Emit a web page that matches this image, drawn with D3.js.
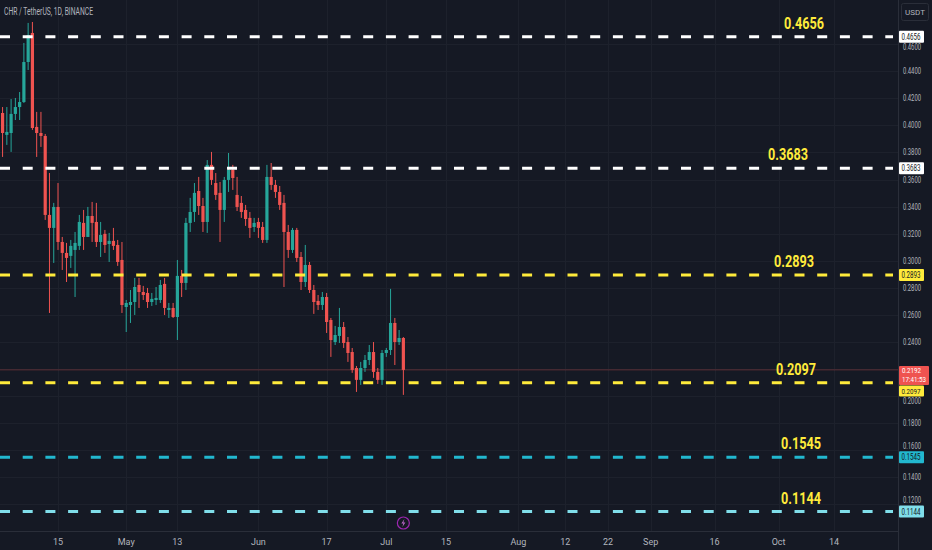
<!DOCTYPE html>
<html><head><meta charset="utf-8">
<script src="https://cdn.jsdelivr.net/npm/d3@7"></script>
<style>html,body{margin:0;padding:0;background:#151924;overflow:hidden}svg{display:block}</style>
</head><body><svg id="c" width="932" height="550"></svg>
<script>
// ---- data ----
const startDate = "2024-04-02";
const opens  = [.4092,.3930,.3944,.4085,.4136,.4173,.4469,.4684,.3989,.3944,.3922,.3338,.3242,.3397,.3138,.3057,.3035,.3079,.3109,.3279,.3175,.3330,.3286,.3138,.3198,.3123,.3146,.3116,.3005,.2657,.2672,.2694,.2820,.2768,.2761,.2694,.2709,.2709,.2828,.2635,.2650,.2583,.2887,.2835,.3279,.3360,.3515,.3404,.3286,.3708,.3574,.3501,.3375,.3597,.3671,.3486,.3427,.3375,.3316,.3249,.3286,.3249,.3153,.3619,.3560,.3508,.3427,.3212,.3079,.3227,.3027,.2842,.2968,.2783,.2702,.2672,.2731,.2561,.2398,.2443,.2509,.2398,.2324,.2206,.2118,.2206,.2265,.2324,.2177,.2118,.2317,.2339,.2539,.2398,.2428];
const highs  = [.4136,.4136,.4195,.4203,.4247,.4610,.4758,.4765,.4100,.4100,.3937,.3648,.3427,.3574,.3175,.3131,.3153,.3212,.3338,.3375,.3397,.3434,.3427,.3286,.3227,.3205,.3242,.3153,.3138,.2709,.2783,.2872,.2872,.2813,.2798,.2761,.2805,.2857,.2872,.2687,.2687,.3005,.2931,.3316,.3464,.3574,.3619,.3464,.3744,.3804,.3648,.3582,.3619,.3796,.3708,.3619,.3478,.3412,.3360,.3316,.3316,.3286,.3708,.3722,.3597,.3552,.3486,.3264,.3242,.3242,.3064,.3116,.2990,.2820,.2746,.2768,.2761,.2576,.2517,.2650,.2546,.2435,.2354,.2221,.2251,.2302,.2376,.2398,.2206,.2339,.2354,.2791,.2576,.2487,.2435];
const lows   = [.3767,.3856,.3804,.4040,.4040,.4166,.4410,.3967,.3767,.3841,.3301,.2613,.2983,.3079,.2931,.2842,.2946,.2731,.3079,.3079,.3190,.3138,.3101,.3027,.3057,.2990,.3079,.2961,.2613,.2472,.2539,.2598,.2650,.2709,.2650,.2665,.2672,.2687,.2598,.2576,.2576,.2413,.2731,.2783,.3212,.3286,.3338,.3212,.3205,.3560,.3449,.3138,.3286,.3508,.3523,.3367,.3316,.3257,.3168,.3212,.3168,.3131,.3131,.3523,.3464,.3375,.2805,.3020,.3057,.2990,.2783,.2805,.2761,.2606,.2635,.2635,.2465,.2288,.2376,.2391,.2354,.2251,.2170,.2029,.2081,.2177,.2228,.2133,.2088,.2081,.2288,.2302,.2228,.2376,.2007];
const closes = [.3944,.3952,.4085,.4136,.4173,.4469,.4669,.3981,.3944,.3922,.3338,.3242,.3397,.3138,.3057,.3020,.3109,.3131,.3286,.3175,.3330,.3279,.3138,.3190,.3116,.3146,.3109,.2990,.2672,.2687,.2694,.2805,.2768,.2746,.2694,.2717,.2724,.2820,.2650,.2650,.2583,.2887,.2835,.3279,.3360,.3501,.3404,.3286,.3708,.3597,.3486,.3375,.3597,.3671,.3611,.3397,.3360,.3308,.3242,.3279,.3242,.3153,.3619,.3560,.3508,.3412,.3212,.3079,.3227,.3020,.2842,.2968,.2783,.2694,.2672,.2731,.2546,.2413,.2450,.2509,.2391,.2317,.2192,.2118,.2206,.2265,.2324,.2177,.2118,.2317,.2339,.2539,.2398,.2428,.2192];

const levels      = [0.4656, 0.3683, 0.2893, 0.2097, 0.1545, 0.1144];
const levelLabels = ["0.4656","0.3683","0.2893","0.2097","0.1545","0.1144"];
const priceTicks  = [0.12,0.14,0.16,0.18,0.20,0.22,0.24,0.26,0.28,0.30,0.32,0.34,0.36,0.38,0.40,0.42,0.44,0.46];
const timeTickDates  = ["2024-04-15","2024-05-01","2024-05-13","2024-06-01","2024-06-17","2024-07-01","2024-07-15","2024-08-01","2024-08-12","2024-08-22","2024-09-01","2024-09-16","2024-10-01","2024-10-14"];
const timeTickLabels = ["15","May","13","Jun","17","Jul","15","Aug","12","22","Sep","16","Oct","14"];
const lastPrice = 0.2192, lastTimer = "17:41:53";
const eventDate = "2024-07-05";
const title = "CHR / TetherUS, 1D, BINANCE";

// ---- styles ----
const W=932,H=550, plotR=898, plotB=531;
const UP="#26a69a", DOWN="#ef5350", BG="#151924", GRID="#1d212c", AXIS="#2a2e39", TXT="#b2b5be";
const levelColors = ["#ffffff","#ffffff","#ffeb3b","#ffeb3b","#22b8cf","#80deea"];
const levelTextX  = [784, 768, 774, 776, 781, 781];
const FONT = "Roboto, sans-serif";

const parse = d3.utcParse("%Y-%m-%d");
const svg = d3.select("#c");
svg.append("rect").attr("width",W).attr("height",H).attr("fill",BG);

const x = d3.scaleUtc().domain([parse("2024-04-15"), parse("2024-10-14")]).range([58, 834]);
const y = d3.scaleLinear().domain([0.12, 0.46]).range([504, 44.3]);

const start = parse(startDate);
const candles = opens.map((o,i)=>({d:d3.utcDay.offset(start,i),o,h:highs[i],l:lows[i],c:closes[i]}));

svg.append("defs").append("clipPath").attr("id","plot").append("rect").attr("x",0).attr("y",0).attr("width",plotR).attr("height",plotB);
const plot = svg.append("g").attr("clip-path","url(#plot)");

// grid
plot.selectAll("line.hg").data(priceTicks).join("line").attr("class","hg")
  .attr("x1",0).attr("x2",plotR).attr("y1",d=>Math.round(y(d))+.5).attr("y2",d=>Math.round(y(d))+.5)
  .attr("stroke",GRID).attr("stroke-width",1);
plot.selectAll("line.vg").data(timeTickDates).join("line").attr("class","vg")
  .attr("y1",0).attr("y2",plotB).attr("x1",d=>Math.round(x(parse(d)))+.5).attr("x2",d=>Math.round(x(parse(d)))+.5)
  .attr("stroke",GRID).attr("stroke-width",1);

// last price line
plot.append("line").attr("x1",0).attr("x2",plotR).attr("y1",y(lastPrice)).attr("y2",y(lastPrice))
  .attr("stroke",DOWN).attr("stroke-opacity",0.3).attr("stroke-width",1);

// candles
const cg = plot.append("g");
cg.selectAll("line.wick").data(candles).join("line").attr("class","wick")
  .attr("x1",d=>x(d.d)).attr("x2",d=>x(d.d)).attr("y1",d=>y(d.h)).attr("y2",d=>y(d.l))
  .attr("stroke",d=>d.c>=d.o?UP:DOWN).attr("stroke-width",1);
cg.selectAll("rect.body").data(candles).join("rect").attr("class","body")
  .attr("x",d=>x(d.d)-1.6).attr("width",3.2)
  .attr("y",d=>y(Math.max(d.o,d.c))).attr("height",d=>Math.max(1,Math.abs(y(d.o)-y(d.c))))
  .attr("fill",d=>d.c>=d.o?UP:DOWN);

// level lines
plot.selectAll("line.lvl").data(levels).join("line").attr("class","lvl")
  .attr("x1",0).attr("x2",893).attr("y1",d=>y(d)).attr("y2",d=>y(d))
  .attr("stroke",(d,i)=>levelColors[i]).attr("stroke-width",3).attr("stroke-dasharray","10 12.7");
plot.selectAll("text.lvl").data(levels).join("text").attr("class","lvl")
  .attr("x",(d,i)=>levelTextX[i]).attr("y",d=>y(d)-8)
  .attr("fill","#ffeb3b").attr("font-family",FONT).attr("font-weight","bold").attr("font-size",16)
  .attr("textLength",40).attr("lengthAdjust","spacingAndGlyphs")
  .text((d,i)=>levelLabels[i]);

// title
svg.append("text").attr("x",4).attr("y",15).attr("fill",TXT).attr("font-family",FONT)
  .attr("font-size",10).attr("textLength",89).attr("lengthAdjust","spacingAndGlyphs").text(title);

// axes separators
svg.append("line").attr("x1",plotR+.5).attr("x2",plotR+.5).attr("y1",0).attr("y2",H).attr("stroke",AXIS);
svg.append("line").attr("x1",0).attr("x2",plotR).attr("y1",plotB+.5).attr("y2",plotB+.5).attr("stroke",AXIS);

// tag spans on the price axis (top, bottom)
const ly = y(lastPrice);
const tagSpans = levels.map((v,i)=> i===3 ? [ly+15.5, ly+26.5] : [y(v)-6, y(v)+6]);
tagSpans.push([ly-4, ly+15]);
tagSpans.push([3.5, 20.5]);

// price axis labels: hidden when under the last-price tag, nudged clear of other tags
const tickPos = [];
priceTicks.forEach(d=>{
  let b = y(d)+3;              // baseline
  const top = ()=>b-7, bot = ()=>b+2;
  let hidden = false;
  tagSpans.forEach(([t0,t1],k)=>{
    if (bot()>t0 && top()<t1){
      const c=(t0+t1)/2;
      if (k===levels.length && Math.abs(y(d)-c)<10) hidden=true;
      else if (y(d) < c) b = t0-2.5; else b = t1+7.5;
    }
  });
  if(!hidden) tickPos.push({v:d,b});
});
svg.selectAll("text.pt").data(tickPos).join("text").attr("class","pt")
  .attr("x",903).attr("y",d=>d.b).attr("fill",TXT).attr("font-family",FONT)
  .attr("font-size",9).attr("textLength",18).attr("lengthAdjust","spacingAndGlyphs")
  .text(d=>d3.format(".4f")(d.v));

// time axis labels
svg.selectAll("text.tt").data(timeTickDates).join("text").attr("class","tt")
  .attr("x",d=>x(parse(d))).attr("y",545).attr("text-anchor","middle").attr("fill",TXT)
  .attr("font-family",FONT).attr("font-size",9).text((d,i)=>timeTickLabels[i]);

// level tags on price axis
const tags = svg.append("g");
levels.forEach((v,i)=>{
  if (i===3) return; // drawn below the last-price tag
  const yy=y(v);
  tags.append("rect").attr("x",899).attr("y",yy-6).attr("width",25).attr("height",12).attr("rx",1).attr("fill",levelColors[i]);
  tags.append("text").attr("x",901.5).attr("y",yy+3).attr("fill","#131722").attr("font-family",FONT)
    .attr("font-size",9).attr("textLength",19).attr("lengthAdjust","spacingAndGlyphs").text(levelLabels[i]);
});
// last price tag
tags.append("rect").attr("x",899).attr("y",ly-4).attr("width",30).attr("height",19).attr("rx",1).attr("fill",DOWN);
tags.append("text").attr("x",902).attr("y",ly+3.5).attr("fill","#ffffff").attr("font-family",FONT)
  .attr("font-size",8).attr("textLength",19).attr("lengthAdjust","spacingAndGlyphs").text(d3.format(".4f")(lastPrice));
tags.append("text").attr("x",902).attr("y",ly+12).attr("fill","#ffffff").attr("font-family",FONT)
  .attr("font-size",7.5).attr("textLength",24).attr("lengthAdjust","spacingAndGlyphs").text(lastTimer);
// 0.2097 tag just below the last price tag
{
  const i=3;
  tags.append("rect").attr("x",899).attr("y",ly+15.5).attr("width",25).attr("height",11).attr("rx",1).attr("fill",levelColors[i]);
  tags.append("text").attr("x",901.5).attr("y",ly+24).attr("fill","#131722").attr("font-family",FONT)
    .attr("font-size",8).attr("textLength",19).attr("lengthAdjust","spacingAndGlyphs").text(levelLabels[i]);
}

// currency box
svg.append("rect").attr("x",901.5).attr("y",3.5).attr("width",27).attr("height",17).attr("rx",2)
  .attr("fill",BG).attr("stroke",AXIS);
svg.append("text").attr("x",915).attr("y",15).attr("text-anchor","middle").attr("fill",TXT)
  .attr("font-family",FONT).attr("font-size",8).text("USDT");

// event marker
const ev = svg.append("g").attr("transform",`translate(${x(parse(eventDate))},523)`);
ev.append("circle").attr("r",6).attr("fill",BG).attr("stroke","#9c27b0").attr("stroke-width",1.2);
ev.append("path").attr("d","M1,-4 L-2,0.5 L0,0.5 L-1,4 L2,-0.5 L0,-0.5 Z").attr("fill","#ba68c8");
</script></body></html>
